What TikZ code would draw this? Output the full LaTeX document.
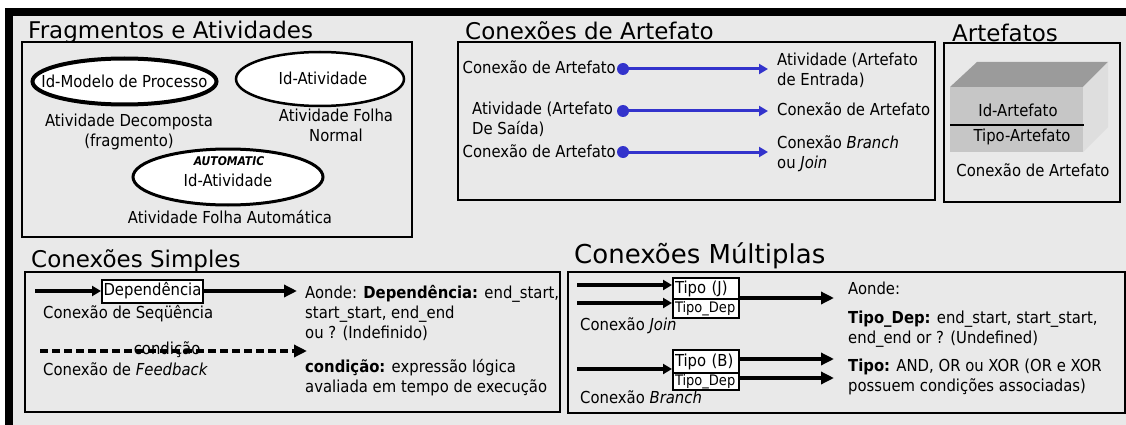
\documentclass[tikz,border=0pt]{standalone}
\usepackage{fontspec}
\setmainfont{DejaVu Sans Condensed}
\newfontfamily\titlefont{DejaVu Sans}
\usepackage{tikz}
\usetikzlibrary{arrows.meta, positioning, shapes.geometric}

\definecolor{bgGray}{RGB}{233,233,233}
\definecolor{linkBlue}{RGB}{51,51,204}
\definecolor{artTop}{RGB}{155,155,155}
\definecolor{artFront}{RGB}{198,198,198}
\definecolor{artSide}{RGB}{222,222,222}

\newcommand{\bodysize}{\fontsize{16.5}{20}\selectfont}
\newcommand{\depsize}{\fontsize{14.5}{16}\selectfont}
\newcommand{\autosize}{\fontsize{12}{14}\selectfont\bfseries\itshape}
\newcommand{\titlesize}{\titlefont\fontsize{23}{26}\selectfont}

\begin{document}
\begin{tikzpicture}[x=1pt, y=-1pt,
  panel/.style={draw, line width=2.2pt},
  ptitle/.style={font=\titlesize, inner sep=0pt, anchor=base west},
  body/.style={font=\bodysize, inner sep=0pt},
  actnode/.style={ellipse, draw, fill=white, inner sep=0pt},
  tipobox/.style={draw, fill=white, line width=2pt, inner xsep=2pt, inner ysep=0pt,
                  anchor=north west, text width=62pt, align=left},
  bigarrow/.style={line width=3.5pt, -{Triangle[length=13pt, width=12pt]}},
  smallarrow/.style={line width=3.5pt, -{Triangle[length=9pt, width=10pt]}},
  artlink/.style={line width=3pt, color=linkBlue, -{Triangle[length=9pt, width=10pt]}},
  linkdot/.style={circle, fill=linkBlue, inner sep=0pt, minimum size=12pt},
]

% ── Frame ──────────────────────────────────────────────────────────
\useasboundingbox (0,0) rectangle (1126,425);
\fill[bgGray] (0,0) rectangle (1126,425);
\fill[white] (0,0) rectangle (1126,8);
\fill[white] (0,0) rectangle (5,425);
\fill[black] (5,8) rectangle (1126,16);
\fill[black] (5,8) rectangle (13,425);

% ── Fragmentos e Atividades ────────────────────────────────────────
\node[ptitle] (tfrag) at (28,39) {Fragmentos e Atividades};
\draw[panel] (22,42) rectangle (412,237);

\node[actnode, line width=4pt, minimum width=184pt, minimum height=46pt] (procfrag) at (124.5,81.5) {};
\node[body] (procname) at (procfrag) {Id-Modelo de Processo};
\node[body, anchor=north, align=center] (proclbl) at (129,112.5) {\strut Atividade Decomposta\\(fragmento)};

\node[actnode, line width=2.5pt, minimum width=168pt, minimum height=54pt] (leafnorm) at (320,79) {};
\node[body] (leafname) at (323,78) {Id-Atividade};
\node[body, anchor=north, align=center] (leaflbl) at (336,107.5) {\strut Atividade Folha\\Normal};

\node[actnode, line width=3pt, minimum width=190pt, minimum height=56pt] (leafauto) at (228,177) {};
\node[font=\autosize, inner sep=0pt] (autotag) at (229,161) {AUTOMATIC};
\node[body] (autoname) at (228,180) {Id-Atividade};
\node[body, anchor=base] (autolbl) at (230,223) {Atividade Folha Automática};

% ── Conexões de Artefato ───────────────────────────────────────────
\node[ptitle] (tartlink) at (465,40) {Conexões de Artefato};
\draw[panel] (458,42) rectangle (935,200);

\node[body, anchor=base east] (src1) at (616,74) {Conexão de Artefato};
\node[body, anchor=north west, align=left] (src2) at (472,100.5) {\strut Atividade (Artefato\\De Saída)};
\node[body, anchor=base east] (src3) at (616,157) {Conexão de Artefato};
\node[body, anchor=north west, align=left] (dst1) at (777,51.5) {\strut Atividade (Artefato\\de Entrada)};
\node[body, anchor=base west] (dst2) at (777,116) {Conexão de Artefato};
\node[body, anchor=north west, align=left] (dst3) at (777,134.5) {\strut Conexão \textit{Branch}\\ou \textit{Join}};

\foreach \i/\y in {1/69, 2/111, 3/152} {
    \node[linkdot] (dot\i) at (623,\y) {};
    \draw[artlink, shorten >=9pt] (dot\i.center) -- (dot\i -| dst\i.west);
}

% ── Artefatos ──────────────────────────────────────────────────────
\node[ptitle] (tart) at (952,42) {Artefatos};
\draw[panel] (944,43) rectangle (1120,202);

\fill[artTop] (950,87) -- (977,62) -- (1108,62) -- (1083,87) -- cycle;
\fill[artSide] (1083,87) -- (1108,62) -- (1108,127) -- (1083,152) -- cycle;
\fill[artFront] (950,87) rectangle (1083,152);
\node[body] (idart) at (1018,110) {Id-Artefato};
\draw[line width=2pt] (950,125) -- (1084,125);
\node[body] (tipoart) at (1022,137) {Tipo-Artefato};
\node[body] (artlbl) at (1033,170) {Conexão de Artefato};

% ── Conexões Simples ───────────────────────────────────────────────
\node[ptitle] (tsimple) at (31,267) {Conexões Simples};
\draw[panel] (25,272) rectangle (560,412);

\node[draw, fill=white, line width=2pt, minimum width=101pt, minimum height=23pt,
      inner sep=1pt, font=\bodysize] (dep) at (152.5,291) {Dependência};
\coordinate (seqin) at (35,291);
\coordinate (seqout) at (297,291);
\draw[smallarrow] (seqin) -- (dep.west);
\draw[bigarrow] (dep.east) -- (seqout);
\node[body, anchor=base west] (seqlbl) at (43,318) {Conexão de Seqüência};
\node[body, anchor=north west, align=left] (seqdesc) at (305,284.5)
    {\strut Aonde: \textbf{Dependência:} end\_start,\\start\_start, end\_end\\ou ? (Indefinido)};

\coordinate (fbin) at (40,351);
\coordinate (fbout) at (307,351);
\draw[bigarrow, dash pattern=on 8pt off 4pt] (fbin) -- (fbout)
    node[body, pos=0.476, anchor=base, yshift=-3pt] (cond) {condição};
\node[body, anchor=base west] (fblbl) at (43,375) {Conexão de \textit{Feedback}};
\node[body, anchor=north west, align=left] (conddesc) at (305,358.5)
    {\strut\textbf{condição:} expressão lógica\\avaliada em tempo de execução};

% ── Conexões Múltiplas ─────────────────────────────────────────────
\node[ptitle, font=\titlefont\fontsize{26}{30}\selectfont] (tmulti) at (574,263) {Conexões Múltiplas};
\draw[panel] (568,272) rectangle (1125,413);

% Join
\node[tipobox, minimum height=21pt, font=\bodysize] (jtype) at (672,277) {Tipo (J)};
\node[tipobox, minimum height=19pt, font=\depsize] (jdep) at (672,298) {Tipo\_Dep};
\coordinate (jin1) at (577,285);
\coordinate (jin2) at (577,303);
\coordinate (jout) at (834,298);
\draw[smallarrow] (jin1) -- (jin1 -| jtype.west);
\draw[smallarrow] (jin2) -- (jin2 -| jdep.west);
\draw[bigarrow] (jtype.east |- jout) -- (jout);
\node[body, anchor=base west] (joinlbl) at (580,330) {Conexão \textit{Join}};

% Branch
\node[tipobox, minimum height=23pt, font=\bodysize] (btype) at (672,349) {Tipo (B)};
\node[tipobox, minimum height=17pt, font=\depsize] (bdep) at (672,372) {Tipo\_Dep};
\coordinate (bin) at (577,369);
\coordinate (bout1) at (834,359);
\coordinate (bout2) at (834,378);
\draw[smallarrow] (bin) -- (bin -| btype.west);
\draw[bigarrow] (btype.east |- bout1) -- (bout1);
\draw[bigarrow] (bdep.east |- bout2) -- (bout2);
\node[body, anchor=base west] (branchlbl) at (580,403) {Conexão \textit{Branch}};

\node[body, anchor=north west, align=left] (multidesc) at (848,280.5)
    {\strut Aonde:\\[9pt]\textbf{Tipo\_Dep:} end\_start, start\_start,\\end\_end or ? (Undefined)\\[8pt]\textbf{Tipo:} AND, OR ou XOR (OR e XOR\\possuem condições associadas)};

\end{tikzpicture}
\end{document}
